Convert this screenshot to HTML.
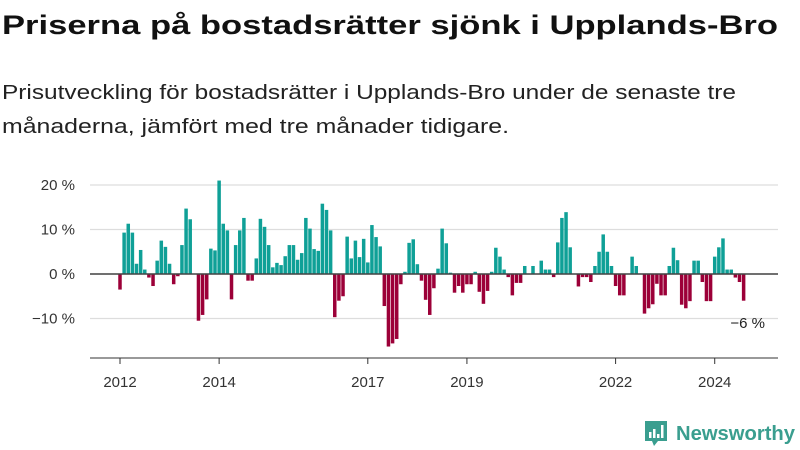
<!DOCTYPE html>
<html><head><meta charset="utf-8"><style>
body{margin:0;background:#fff;}
svg{display:block;font-family:"Liberation Sans",sans-serif;}
</style></head><body>
<svg width="800" height="450" viewBox="0 0 800 450">
<text x="2" y="34" font-size="27" font-weight="bold" fill="#111" textLength="776" lengthAdjust="spacingAndGlyphs">Priserna på bostadsrätter sjönk i Upplands-Bro</text>
<text x="2" y="99" font-size="20" fill="#222" textLength="734" lengthAdjust="spacingAndGlyphs">Prisutveckling för bostadsrätter i Upplands-Bro under de senaste tre</text>
<text x="2" y="133" font-size="20" fill="#222" textLength="507" lengthAdjust="spacingAndGlyphs">månaderna, jämfört med tre månader tidigare.</text>
<g id="grid"></g>
<g id="ylabels"></g>
<g id="bars"></g>
<line x1="90" x2="778" y1="274" y2="274" stroke="#444" stroke-width="1.5"/>
<line x1="90" x2="778" y1="358" y2="358" stroke="#333" stroke-width="1"/>
<g id="xlabels"></g>
<text x="765" y="328" font-size="15" fill="#222" text-anchor="end">−6 %</text>
<g>
<path d="M645 421 h22 v20 h-9 l-4 5 l-2 -5 h-7 z" fill="#3a9e8f"/>
<rect x="649" y="432" width="2.5" height="6" fill="#fff"/><rect x="653" y="429" width="2.5" height="9" fill="#fff"/><rect x="657" y="434" width="2.5" height="4" fill="#fff"/><rect x="661" y="425" width="2.5" height="13" fill="#fff"/>
<text x="676" y="440" font-size="20" font-weight="bold" fill="#3a9e8f" textLength="119" lengthAdjust="spacingAndGlyphs">Newsworthy</text>
</g>
</svg>
<script>
const values = [-3.5,9.3,11.3,9.3,2.3,5.4,1,-0.8,-2.7,3,7.5,6.1,2.3,-2.3,-0.5,6.5,14.7,12.3,0,-10.5,-9.2,-5.7,5.7,5.3,21,11.3,9.8,-5.7,6.5,9.8,12.6,-1.5,-1.5,3.5,12.4,10.6,6.5,1.5,2.5,
2,4,6.5,6.5,3.2,4.7,12.6,10.2,5.6,5.2,15.8,14.4,9.8,-9.7,-6,-5,8.4,3.5,7.5,3.8,7.9,2.6,11,8.3,6.2,-7.2,-16.3,-15.6,-14.6,-2.3,0.5,7,7.8,2.2,-1.5,-5.8,-9.2,-3.2,1.2,
10.2,6.9,0.3,-4.2,-2.7,-4.2,-2.3,-2.3,0.5,-4,-6.7,-3.8,0.5,5.9,3.9,1,-0.7,-4.8,-2,-2,1.8,0,1.8,0,3,1,1,-0.7,7.1,12.6,13.9,6,0,-2.8,-0.7,-0.7,-1.8,1.8,5,
8.9,5,1.8,-2.7,-4.8,-4.8,0,3.9,1.8,0,-8.9,-7.7,-6.8,-2.2,-4.8,-4.8,1.8,5.9,3.1,-6.9,-7.7,-6.1,3,3,-1.8,-6.1,-6.1,3.9,6,8,1,1,-0.8,-1.8,-6];
const yTicks = [20,10,0,-10];
const yTickLabels = ["20 %","10 %","0 %","−10 %"];
const xTickYears = [2012,2014,2017,2019,2022,2024];
const startYear = 2012;

const NS="http://www.w3.org/2000/svg";
function y(v){return 274 - v*4.45;}
function x(i){return 120 + i*4.13;}
const grid=document.getElementById('grid'), yl=document.getElementById('ylabels'), bars=document.getElementById('bars'), xl=document.getElementById('xlabels');
yTicks.forEach((t,k)=>{
  const l=document.createElementNS(NS,'line');
  l.setAttribute('x1',90);l.setAttribute('x2',778);l.setAttribute('y1',y(t));l.setAttribute('y2',y(t));
  l.setAttribute('stroke','#ddd');l.setAttribute('stroke-width','1.3');
  
  
  grid.appendChild(l);
  const tx=document.createElementNS(NS,'text');
  tx.setAttribute('x',75);tx.setAttribute('y',y(t)+5);tx.setAttribute('text-anchor','end');
  tx.setAttribute('font-size','15');tx.setAttribute('fill','#333');
  tx.textContent=yTickLabels[k];
  
  
  yl.appendChild(tx);
});
values.forEach((v,i)=>{
  const r=document.createElementNS(NS,'rect');
  const y0=y(Math.max(v,0)), h=Math.abs(y(v)-y(0));
  r.setAttribute('x',x(i)-1.75);r.setAttribute('width',3.5);
  r.setAttribute('y',y0);r.setAttribute('height',h);
  r.setAttribute('fill',v>=0?'#0fa097':'#9c0038');
  
  
  bars.appendChild(r);
});
xTickYears.forEach(yr=>{
  const px=x((yr-startYear)*12);
  const l=document.createElementNS(NS,'line');
  l.setAttribute('x1',px);l.setAttribute('x2',px);l.setAttribute('y1',358);l.setAttribute('y2',364);
  l.setAttribute('stroke','#333');
  
  
  xl.appendChild(l);
  const tx=document.createElementNS(NS,'text');
  tx.setAttribute('x',px);tx.setAttribute('y',387);tx.setAttribute('text-anchor','middle');
  tx.setAttribute('font-size','15');tx.setAttribute('fill','#333');
  tx.textContent=yr;
  
  
  xl.appendChild(tx);
});
</script>
</body></html>
